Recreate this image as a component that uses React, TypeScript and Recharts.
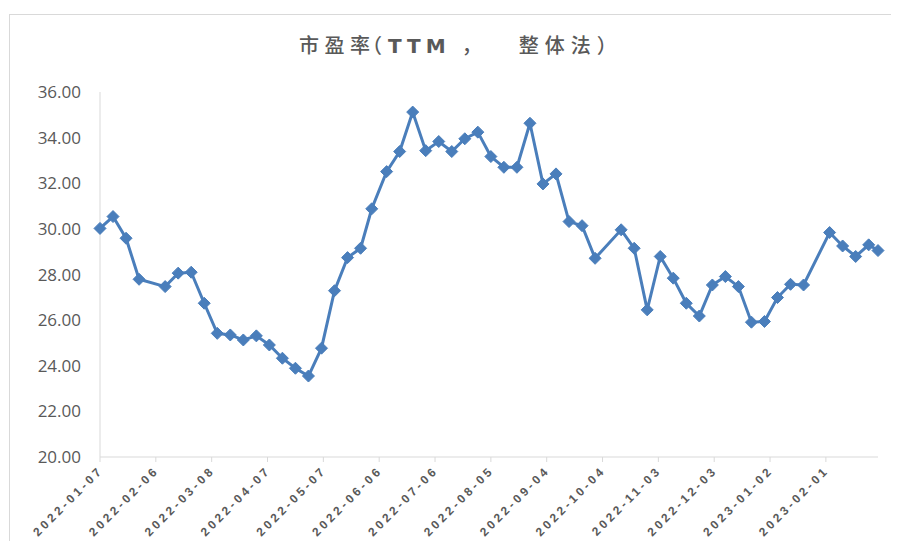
import { LineChart, Line, XAxis, YAxis } from 'recharts';

const dates = [
  '2022-01-07', '2022-01-14', '2022-01-21', '2022-01-28', '2022-02-11', '2022-02-18', '2022-02-25',
  '2022-03-04', '2022-03-11', '2022-03-18', '2022-03-25', '2022-04-01', '2022-04-08', '2022-04-15',
  '2022-04-22', '2022-04-29', '2022-05-06', '2022-05-13', '2022-05-20', '2022-05-27', '2022-06-02',
  '2022-06-10', '2022-06-17', '2022-06-24', '2022-07-01', '2022-07-08', '2022-07-15', '2022-07-22',
  '2022-07-29', '2022-08-05', '2022-08-12', '2022-08-19', '2022-08-26', '2022-09-02', '2022-09-09',
  '2022-09-16', '2022-09-23', '2022-09-30', '2022-10-14', '2022-10-21', '2022-10-28', '2022-11-04',
  '2022-11-11', '2022-11-18', '2022-11-25', '2022-12-02', '2022-12-09', '2022-12-16', '2022-12-23',
  '2022-12-30', '2023-01-06', '2023-01-13', '2023-01-20', '2023-02-03', '2023-02-10', '2023-02-17',
  '2023-02-24', '2023-03-01'
];

const peValues = [
  30.02, 30.54, 29.59, 27.79, 27.47, 28.06, 28.1, 26.74, 25.42, 25.35,
  25.13, 25.31, 24.91, 24.33, 23.89, 23.55, 24.77, 27.29, 28.74, 29.15,
  30.88, 32.51, 33.39, 35.12, 33.43, 33.83, 33.39, 33.95, 34.24, 33.17,
  32.7, 32.7, 34.63, 31.97, 32.41, 30.32, 30.14, 28.71, 29.96, 29.15,
  26.45, 28.79, 27.84, 26.74, 26.18, 27.54, 27.91, 27.47, 25.91, 25.94,
  26.99, 27.57, 27.54, 29.84, 29.25, 28.79, 29.3, 29.05
];

const xTickLabels = [
  '2022-01-07', '2022-02-06', '2022-03-08', '2022-04-07', '2022-05-07', '2022-06-06', '2022-07-06',
  '2022-08-05', '2022-09-04', '2022-10-04', '2022-11-03', '2022-12-03', '2023-01-02', '2023-02-01'
];

const yTicks = [20, 22, 24, 26, 28, 30, 32, 34, 36];

const toDay = (d: string) => Date.parse(d);
const fmtDay = (t: number) => new Date(t).toISOString().slice(0, 10);

const rows = dates.map((d, i) => ({ t: toDay(d), pe: peValues[i] }));

const BLUE = '#4a7ebb';
const GREY = '#595959';
const AXIS = '#d9d9d9';
const CJK = "'Noto Sans CJK SC', 'Noto Sans', sans-serif";
const LATIN = "'Liberation Sans', Arial, sans-serif";

const Diamond = (props: any) => {
  const { cx, cy } = props;
  if (cx == null || cy == null) return null;
  const r = 6;
  return (
    <polygon
      points={`${cx},${cy - r} ${cx + r},${cy} ${cx},${cy + r} ${cx - r},${cy}`}
      fill={BLUE}
      stroke={BLUE}
      strokeWidth={1}
    />
  );
};

// rotated date labels, Excel style
const DateTick = (props: any) => {
  const { x, y, payload } = props;
  return (
    <g transform={`translate(${x + 1},${y + 6})`}>
      <text
        textAnchor="end"
        transform="rotate(-45)"
        dy="0.35em"
        fill={GREY}
        fontSize={12}
        fontWeight="bold"
        letterSpacing={3.2}
        fontFamily={LATIN}
      >
        {fmtDay(payload.value)}
      </text>
    </g>
  );
};

const half = { fontFeatureSettings: '"halt"' };

export default function App() {
  return (
    <div style={{ width: 883, height: 533, overflow: 'hidden' }}>
      <div
        style={{
          position: 'relative',
          marginLeft: 1,
          marginTop: 6,
          width: 920,
          height: 560,
          border: `1px solid ${AXIS}`,
          background: '#fff'
        }}
      >
        <div
          style={{
            position: 'absolute',
            left: 289,
            top: 15,
            lineHeight: '30px',
            fontSize: 20,
            fontWeight: 500,
            color: GREY,
            whiteSpace: 'nowrap',
            display: 'flex',
            alignItems: 'baseline',
            fontFamily: CJK
          }}
        >
          <span style={{ letterSpacing: 5.5 }}>市盈</span>
          <span>率</span>
          <span style={{ ...half, marginLeft: 2 }}>（</span>
          <span style={{ marginLeft: 6, fontWeight: 'bold', letterSpacing: 5, fontFamily: "'DejaVu Sans', sans-serif" }}>TTM</span>
          <span style={{ ...half, marginLeft: 11, marginRight: 47 }}>，</span>
          <span style={{ letterSpacing: 6 }}>整体法</span>
          <span>）</span>
        </div>
        <LineChart
          width={920}
          height={560}
          data={rows}
          margin={{ top: 77, right: 52, left: 20, bottom: 38 }}
        >
          <XAxis
            dataKey="t"
            type="number"
            scale="linear"
            domain={[toDay(dates[0]), toDay(dates[dates.length - 1])]}
            ticks={xTickLabels.map(toDay)}
            tick={<DateTick />}
            height={80}
            stroke={AXIS}
            tickLine={{ stroke: AXIS }}
            tickSize={5}
            tickMargin={0}
            interval={0}
          />
          <YAxis
            domain={[20, 36]}
            ticks={yTicks}
            tickFormatter={(v: number) => v.toFixed(2)}
            width={70}
            stroke={AXIS}
            tickLine={false}
            tickSize={6}
            tickMargin={13}
            tick={{ fill: GREY, fontSize: 17, fontFamily: "'Open Sans', sans-serif" }}
            allowDataOverflow
          />
          <Line
            type="linear"
            dataKey="pe"
            stroke={BLUE}
            strokeWidth={3}
            dot={<Diamond />}
            activeDot={false}
            isAnimationActive={false}
          />
        </LineChart>
      </div>
    </div>
  );
}
